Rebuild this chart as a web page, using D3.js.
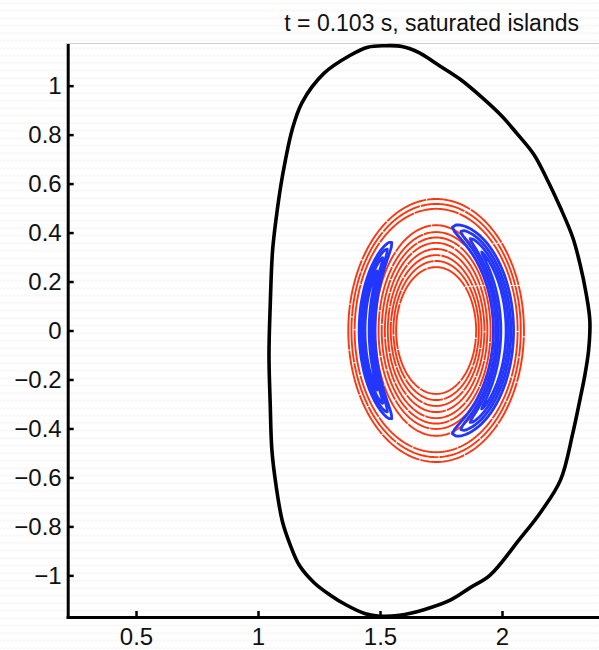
<!DOCTYPE html>
<html>
<head>
<meta charset="utf-8">
<script src="https://cdn.jsdelivr.net/npm/d3@7"></script>
<style>
  html, body { margin: 0; padding: 0; background: #fff; }
  svg { display: block; }
  text { font-family: "Liberation Sans", Arial, Helvetica, sans-serif; fill: #111; }
</style>
</head>
<body>
<svg id="chart" width="599" height="650"></svg>
<script>
// ---------------- data ----------------
const titleText = "t = 0.103 s, saturated islands";
const xTicks = [0.5, 1, 1.5, 2];
const yTicks = [-1, -0.8, -0.6, -0.4, -0.2, 0, 0.2, 0.4, 0.6, 0.8, 1];
const xLimits = [0.22, 2.40];
const yLimits = [-1.17, 1.166];

// plasma boundary (last closed flux surface), R and Z
const boundaryR = [1.45, 1.52, 1.59, 1.66, 1.73, 1.83, 1.92, 2.00, 2.06, 2.13, 2.18, 2.24, 2.29, 2.32, 2.345, 2.36,
  2.355, 2.34, 2.32, 2.29, 2.24, 2.16, 2.07, 1.95, 1.87, 1.79, 1.68, 1.58, 1.49, 1.44, 1.36, 1.295, 1.23, 1.17,
  1.13, 1.10, 1.075, 1.057, 1.05, 1.045, 1.05, 1.06, 1.08, 1.10, 1.14, 1.18, 1.27, 1.38];
const boundaryZ = [1.157, 1.163, 1.160, 1.135, 1.09, 1.025, 0.95, 0.875, 0.806, 0.72, 0.627, 0.50, 0.38, 0.27, 0.15, 0.04,
  -0.08, -0.18, -0.28, -0.42, -0.61, -0.74, -0.855, -1.0, -1.05, -1.10, -1.14, -1.163, -1.166, -1.157, -1.12, -1.08, -1.03, -0.96,
  -0.87, -0.78, -0.64, -0.49, -0.30, -0.10, 0.10, 0.33, 0.50, 0.63, 0.82, 0.93, 1.05, 1.125];

// Poincaré surfaces (red): centre and semi-axes of each traced surface
const surfaceCenter = [1.73, 0.0];
const surfaceA = [0.360, 0.347, 0.334, 0.250, 0.236, 0.223, 0.210, 0.198, 0.186, 0.175, 0.164];
const surfaceB = [0.537, 0.517, 0.497, 0.430, 0.402, 0.380, 0.358, 0.333, 0.308, 0.284, 0.259];

// magnetic islands (blue): side angle, ellipse semi-axes, half angular span (deg), relative half-width
const islandSide  = [0, 180];
const islandA     = [0.276, 0.283];
const islandB     = [0.435, 0.47];
const islandSpan  = [76, 50];
const islandWidth = [0.15, 0.115];
const islandNest  = [1, 0.74, 0.5, 0.26];

// ---------------- drawing ----------------
const svg = d3.select("#chart");

// faint wavy background texture
const defs = svg.append("defs");
const pat = defs.append("pattern").attr("id", "bg").attr("patternUnits", "userSpaceOnUse")
  .attr("width", 8).attr("height", 7.5);
pat.append("path").attr("d", "M0,4 L2,2.2 L4,4 L6,2.2 L8,4")
  .attr("fill", "none").attr("stroke", "#f5f5f5").attr("stroke-width", 1);
svg.append("rect").attr("width", 599).attr("height", 650).attr("fill", "url(#bg)");

const x = d3.scaleLinear().domain(xLimits).range([67.7, 599.6]);
const y = d3.scaleLinear().domain(yLimits).range([617, 45]);

// top light frame line
svg.append("line").attr("x1", 66).attr("x2", 599).attr("y1", 43.5).attr("y2", 43.5)
  .attr("stroke", "#cfcfcf").attr("stroke-width", 1);

const clip = defs.append("clipPath").attr("id", "plotclip");
clip.append("rect").attr("x", x(xLimits[0])).attr("y", y(yLimits[1]) - 3)
  .attr("width", x(xLimits[1]) - x(xLimits[0]) + 5).attr("height", y(yLimits[0]) - y(yLimits[1]) + 6);
const plot = svg.append("g").attr("clip-path", "url(#plotclip)");

// red surfaces
const nAng = 240;
const angles = d3.range(nAng).map(i => 2 * Math.PI * i / nAng);
const ringLine = d3.line().x(d => x(d[0])).y(d => y(d[1])).curve(d3.curveLinearClosed);
surfaceA.forEach((a, i) => {
  const b = surfaceB[i];
  const pts = angles.map(t => [surfaceCenter[0] + a * Math.cos(t), surfaceCenter[1] + b * Math.sin(t)]);
  plot.append("path").attr("d", ringLine(pts))
    .attr("fill", "none").attr("stroke", "#ff3510").attr("stroke-width", 1.9)
    .attr("stroke-dasharray", "45 1");
});

// blue islands
islandSide.forEach((side, k) => {
  const phi = side * Math.PI / 180;
  const a = islandA[k], b = islandB[k];
  islandNest.forEach(s => {
    const span = islandSpan[k] * Math.PI / 180 * Math.pow(s, 0.35);
    const W = islandWidth[k] * s;
    const ts = d3.range(0, 61).map(i => -span + 2 * span * i / 60);
    const width = t => W * Math.pow(Math.max(0, 1 - (t / span) * (t / span)), 0.55);
    const outer = ts.map(t => {
      const r = 1 + width(t), al = phi + t;
      return [surfaceCenter[0] + a * r * Math.cos(al), surfaceCenter[1] + b * r * Math.sin(al)];
    });
    const inner = ts.slice().reverse().map(t => {
      const r = 1 - width(t), al = phi + t;
      return [surfaceCenter[0] + a * r * Math.cos(al), surfaceCenter[1] + b * r * Math.sin(al)];
    });
    plot.append("path").attr("d", ringLine(outer.concat(inner)))
      .attr("fill", "none").attr("stroke", "#2236ff").attr("stroke-width", 2.8)
      .attr("stroke-linejoin", "round");
  });
});

// boundary
const bPts = boundaryR.map((r, i) => [r, boundaryZ[i]]);
plot.append("path")
  .attr("d", d3.line().x(d => x(d[0])).y(d => y(d[1])).curve(d3.curveCatmullRomClosed)(bPts))
  .attr("fill", "none").attr("stroke", "#000").attr("stroke-width", 3.6);

// axes
const fmt = v => (v < 0 ? "\u2212" : "") + String(Math.abs(v));
const yAxis = d3.axisLeft(y).tickValues(yTicks).tickFormat(fmt).tickSizeInner(-6).tickSizeOuter(0).tickPadding(6);
const xAxis = d3.axisBottom(x).tickValues(xTicks).tickFormat(fmt).tickSizeInner(-6).tickSizeOuter(0).tickPadding(11);

const gy = svg.append("g").attr("transform", `translate(${x(xLimits[0])},0)`).call(yAxis);
const gx = svg.append("g").attr("transform", `translate(0,${y(yLimits[0])})`).call(xAxis);
[gx, gy].forEach(g => {
  g.select(".domain").attr("stroke", "#000").attr("stroke-width", 3).attr("stroke-linecap", "square");
  g.selectAll(".tick line").attr("stroke", "#000").attr("stroke-width", 2.5);
  g.selectAll(".tick text").attr("font-size", 24).attr("fill", "#111")
    .attr("font-family", "Liberation Sans, Arial, sans-serif");
});

// title
svg.append("text").attr("x", 579).attr("y", 31).attr("text-anchor", "end")
  .attr("font-size", 23).text(titleText);
</script>
</body>
</html>
